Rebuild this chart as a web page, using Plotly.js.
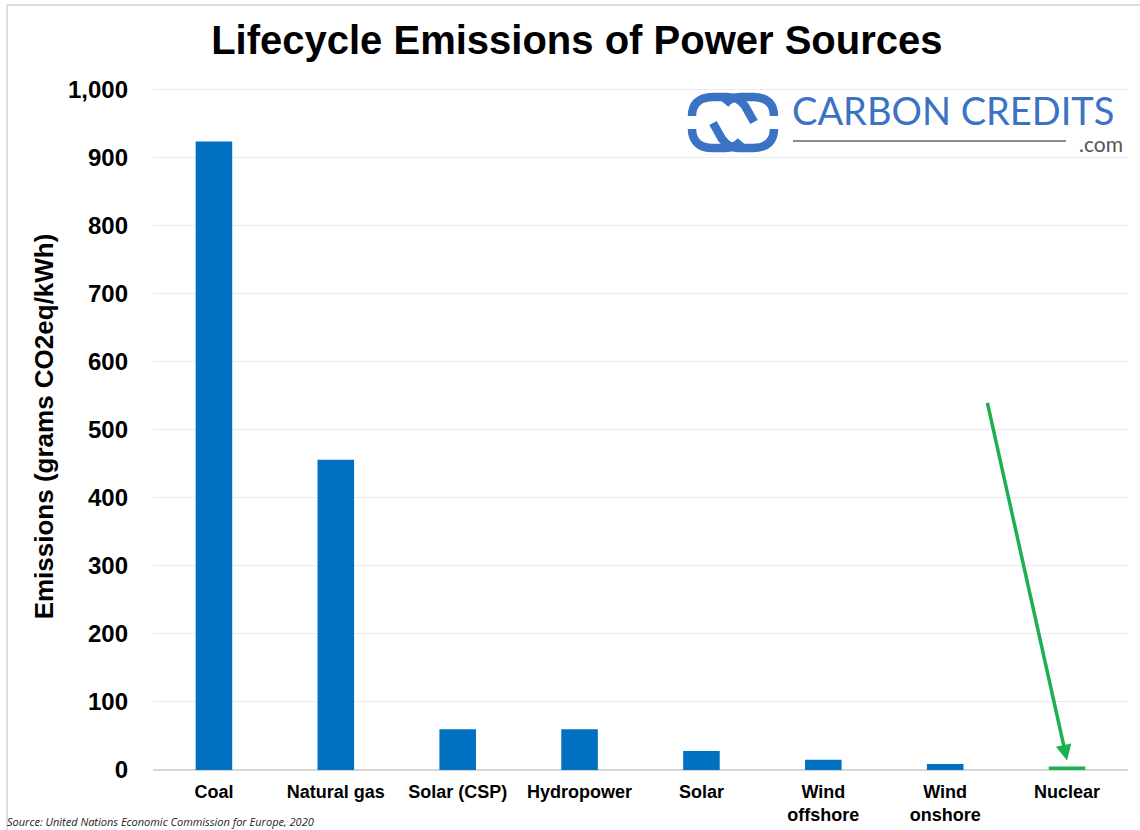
<!DOCTYPE html>
<html>
<head>
<meta charset="utf-8">
<script src="https://cdn.plot.ly/plotly-3.0.1.min.js"></script>
<style>
  html, body { margin: 0; padding: 0; background: #ffffff; }
  #chart { width: 1140px; height: 830px; }
</style>
</head>
<body>
<div id="chart"></div>
<script>
// ---- Data ----
const categories = ['Coal', 'Natural gas', 'Solar (CSP)', 'Hydropower', 'Solar', 'Wind<br>offshore', 'Wind<br>onshore', 'Nuclear'];
const emissions = [924, 456, 60, 60, 28, 15, 9, 5];
const highlighted = 'Nuclear';
const titleText = 'Lifecycle Emissions of Power Sources';
const yTitleText = 'Emissions (grams CO2eq/kWh)';
const sourceText = 'Source: United Nations Economic Commission for Europe, 2020';
const brandText = 'CARBON CREDITS';
const brandSuffix = '.com';

const BLUE = '#0070C0';
const GREEN = '#1DB04E';
const LOGO = '#3A73C3';
const barColors = categories.map(c => c === highlighted ? GREEN : BLUE);

// plot area geometry helpers (pixels)
const L = 153, R = 12, T = 83, B = 60, W = 1140, H = 830;
const pw = W - L - R, ph = H - T - B;
const px = x => (x - L) / pw;
const py = y => (H - B - y) / ph;

// logo icon paths, in pixels relative to anchor (733,122), y up
const ax0 = 733, ay0 = 122;
function rel(pts) {
  return pts.replace(/(-?\d+(?:\.\d+)?),(-?\d+(?:\.\d+)?)/g, (m, a, b) => (parseFloat(a) - ax0) + ',' + (ay0 - parseFloat(b)));
}
const iconPaths = [
  'M 754,122 L 745,106 C 740,99 735,97 727,97 L 713,97 C 698,97 692,105 692,116',
  'M 692,129 C 692,140 698,148 713,148 L 725,148 C 732,148 737,146 741,141',
  'M 713,123 L 722,139 C 727,146 732,148 740,148 L 753,148 C 768,148 774,140 774,129',
  'M 774,116 C 774,105 768,97 753,97 L 741,97 C 734,97 729,99 725,104'
];

const shapes = iconPaths.map(p => ({
  type: 'path', xref: 'paper', yref: 'paper',
  xsizemode: 'pixel', ysizemode: 'pixel',
  xanchor: px(ax0), yanchor: py(ay0),
  path: rel(p),
  line: { color: LOGO, width: 8.5 }
}));
// line under brand text
shapes.push({
  type: 'line', xref: 'paper', yref: 'paper',
  x0: px(793), x1: px(1066), y0: py(141), y1: py(141),
  line: { color: '#666666', width: 1.5 }
});
// outer frame (top and left edges)
shapes.push({
  type: 'line', xref: 'paper', yref: 'paper',
  x0: px(7), x1: px(1145), y0: py(5), y1: py(5),
  line: { color: '#DCDCDC', width: 2 }
});
shapes.push({
  type: 'line', xref: 'paper', yref: 'paper',
  x0: px(7), x1: px(7), y0: py(5), y1: py(835),
  line: { color: '#DCDCDC', width: 2 }
});

const trace = {
  type: 'bar',
  x: categories,
  y: emissions,
  marker: { color: barColors },
  hoverinfo: 'x+y'
};

const layout = {
  width: W, height: H,
  margin: { l: L, r: R, t: T, b: B },
  paper_bgcolor: '#ffffff',
  plot_bgcolor: '#ffffff',
  bargap: 0.7,
  showlegend: false,
  font: { family: 'Liberation Sans, Arial, sans-serif', color: '#000000' },
  title: {
    text: '<b>' + titleText + '</b>',
    font: { size: 40, family: 'Liberation Sans, Arial, sans-serif', color: '#000' },
    x: 0.506, xanchor: 'center', xref: 'container',
    y: 0.952, yanchor: 'middle', yref: 'container'
  },
  xaxis: {
    type: 'category',
    tickfont: { size: 18, family: 'Liberation Sans, Arial, sans-serif', color: '#000', weight: 'bold' },
    showgrid: false,
    showline: false,
    ticks: '',
    ticklabelstandoff: 9,
    fixedrange: true
  },
  yaxis: {
    range: [0, 1010],
    dtick: 100,
    tick0: 0,
    tickformat: ',d',
    tickfont: { size: 24, family: 'Liberation Sans, Arial, sans-serif', color: '#000', weight: 'bold' },
    gridcolor: '#EBEBEB',
    gridwidth: 1,
    zeroline: true,
    zerolinecolor: '#D6D6D6',
    zerolinewidth: 2,
    showline: false,
    ticks: '',
    ticklabelstandoff: 24,
    title: {
      text: '<b>' + yTitleText + '</b>',
      font: { size: 26, family: 'Liberation Sans, Arial, sans-serif', color: '#000' },
      standoff: 6
    },
    automargin: false,
    fixedrange: true
  },
  shapes: shapes,
  annotations: [
    {
      x: highlighted, y: 14, xref: 'x', yref: 'y',
      text: '', showarrow: true,
      ax: -80, ay: -359, axref: 'pixel', ayref: 'pixel',
      arrowcolor: GREEN, arrowwidth: 3.5, arrowhead: 2, arrowsize: 0.9
    },
    {
      text: brandText, showarrow: false,
      xref: 'paper', yref: 'paper',
      x: px(791), y: py(110), xanchor: 'left', yanchor: 'middle',
      font: { size: 38, family: 'Lato, Open Sans, sans-serif', color: LOGO },
      borderpad: 0
    },
    {
      text: brandSuffix, showarrow: false,
      xref: 'paper', yref: 'paper',
      x: px(1124), y: py(143), xanchor: 'right', yanchor: 'middle',
      font: { size: 21, family: 'Lato, Open Sans, sans-serif', color: '#555555' },
      borderpad: 0
    },
    {
      text: '<i>' + sourceText + '</i>', showarrow: false,
      xref: 'paper', yref: 'paper',
      x: px(6), y: py(830), xanchor: 'left', yanchor: 'bottom',
      font: { size: 11, family: 'Open Sans, sans-serif', color: '#222222' },
      borderpad: 0
    }
  ]
};

Plotly.newPlot('chart', [trace], layout, { displayModeBar: false, staticPlot: true });
</script>
</body>
</html>
